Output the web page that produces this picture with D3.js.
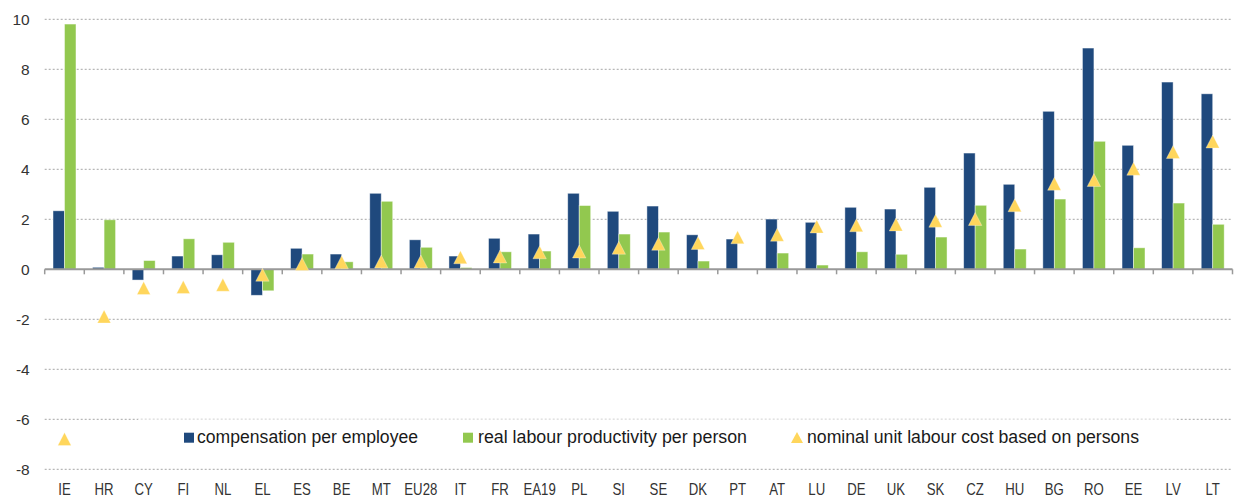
<!DOCTYPE html>
<html>
<head>
<meta charset="utf-8">
<script src="https://d3js.org/d3.v7.min.js"></script>
<style>
  body { margin: 0; background: #fff; }
  svg { display: block; font-family: "Liberation Sans", Arial, sans-serif; }
</style>
</head>
<body>
<svg id="chart" width="1234" height="497"></svg>

<script>
// data
const categories = ["IE","HR","CY","FI","NL","EL","ES","BE","MT","EU28","IT","FR","EA19","PL","SI",
                    "SE","DK","PT","AT","LU","DE","UK","SK","CZ","HU","BG","RO","EE","LV","LT"]
const compensation = [2.34, 0.08, -0.43, 0.53, 0.58, -1.04, 0.84, 0.61, 3.04, 1.18, 0.53, 1.24, 1.41, 3.04, 2.32,
                      2.53, 1.38, 1.21, 2.01, 1.88, 2.48, 2.41, 3.28, 4.65, 3.40, 6.32, 8.85, 4.96, 7.49, 7.02]
const productivity = [9.81, 1.98, 0.35, 1.22, 1.08, -0.86, 0.61, 0.30, 2.72, 0.88, 0.07, 0.70, 0.73, 2.55, 1.41,
                      1.49, 0.33, 0.00, 0.65, 0.17, 0.70, 0.60, 1.29, 2.56, 0.81, 2.81, 5.12, 0.86, 2.65, 1.80]
const unitLabourCost = [-6.80, -1.90, -0.76, -0.72, -0.63, -0.23, 0.20, 0.27, 0.30, 0.30, 0.47, 0.50, 0.67, 0.70, 0.85,
                        1.01, 1.04, 1.27, 1.37, 1.70, 1.75, 1.78, 1.93, 2.00, 2.55, 3.41, 3.56, 4.01, 4.68, 5.10]
const yTicks = [-8, -6, -4, -2, 0, 2, 4, 6, 8, 10]
const legendLabels = ["compensation per employee", "real labour productivity per person",
                      "nominal unit labour cost based on persons"]

const blue = "#1f497d", green = "#92c84f", yellow = "#ffd65c"

const plotLeft = 44.7, plotRight = 1232.5
const svg = d3.select("#chart")

const x = d3.scaleBand().domain(categories).range([plotLeft, plotRight]).paddingInner(0.42).paddingOuter(0.21)
const step = x.step()
const xSub = d3.scaleBand().domain(["comp", "prod"]).range([0, x.bandwidth()])
const y = d3.scaleLinear().domain([-8, 10]).range([469.3, 19.3])

// gridlines
svg.append("g")
  .selectAll("line")
  .data(yTicks.filter(d => d !== 0))
  .join("line")
    .attr("x1", plotLeft).attr("x2", plotRight)
    .attr("y1", d => y(d)).attr("y2", d => y(d))
    .attr("stroke", "#a6a6a6")
    .attr("stroke-width", 1)
    .attr("stroke-dasharray", "2,2")

// y tick labels (plain hyphen for negatives)
const yAxis = svg.append("g")
  .attr("transform", "translate(" + plotLeft + ",0)")
  .call(d3.axisLeft(y).tickValues(yTicks).tickSize(0).tickPadding(15).tickFormat(d => String(d)))
yAxis.select(".domain").remove()
yAxis.selectAll("text")
  .style("font-family", "Liberation Sans, Arial, sans-serif")
  .style("font-size", "15.5px")
  .attr("fill", "#333")

// bars
const rows = categories.map((c, i) => ({ c, comp: compensation[i], prod: productivity[i] }))
const groups = svg.append("g").selectAll("g")
  .data(rows)
  .join("g")
    .attr("transform", d => "translate(" + x(d.c) + ",0)")

groups.selectAll("rect")
  .data(d => [{ k: "comp", v: d.comp }, { k: "prod", v: d.prod }])
  .join("rect")
    .attr("x", d => xSub(d.k))
    .attr("width", xSub.bandwidth())
    .attr("y", d => y(Math.max(0, d.v)))
    .attr("height", d => Math.abs(y(d.v) - y(0)))
    .attr("fill", d => d.k === "comp" ? blue : green)
    .attr("stroke", "rgba(255,255,255,0.55)")
    .attr("stroke-width", 0.8)

// zero axis with category boundary ticks
svg.append("line")
  .attr("x1", plotLeft).attr("x2", plotRight)
  .attr("y1", y(0)).attr("y2", y(0))
  .attr("stroke", "#999")
  .attr("stroke-width", 2)

const boundaries = categories.map(c => x(c) - x.paddingOuter() * step).concat([plotRight])
svg.append("g")
  .selectAll("line")
  .data(boundaries)
  .join("line")
    .attr("x1", d => d).attr("x2", d => d)
    .attr("y1", y(0)).attr("y2", y(0) + 5)
    .attr("stroke", "#999")
    .attr("stroke-width", 1.5)

// triangles
const tri = "M0,-6.8L6.7,6.2L-6.7,6.2Z"
svg.append("g")
  .selectAll("path")
  .data(categories.map((c, i) => ({ c, v: unitLabourCost[i] })))
  .join("path")
    .attr("d", tri)
    .attr("transform", d => "translate(" + (x(d.c) + x.bandwidth() / 2) + "," + y(d.v) + ")")
    .attr("fill", yellow)
    .attr("stroke", "rgba(255,255,255,0.5)")
    .attr("stroke-width", 0.6)

// x labels (narrow rendering as in the source)
const xLabels = svg.append("g")
  .selectAll("text")
  .data(categories)
  .join("text")
    .attr("x", d => x(d) + x.bandwidth() / 2)
    .attr("y", 495)
    .attr("text-anchor", "middle")
    .attr("font-size", 16.5)
    .attr("fill", "#333")
    .text(d => d)
xLabels.each(function () {
  const w = this.getComputedTextLength()
  d3.select(this).attr("textLength", w * 0.8).attr("lengthAdjust", "spacingAndGlyphs")
})

// legend
svg.append("rect")
  .attr("x", 138).attr("y", 419)
  .attr("width", 1039).attr("height", 36)
  .attr("fill", "#fff")
  .attr("fill-opacity", 0.6)

const legendX = [184, 463, 791]
const textX = [197, 478, 807]
const textW = [221, 269, 332]
const legend = svg.append("g")
legendLabels.forEach((label, i) => {
  if (i < 2) {
    legend.append("rect")
      .attr("x", legendX[i]).attr("y", 432.7)
      .attr("width", 10).attr("height", 10)
      .attr("fill", i === 0 ? blue : green)
  } else {
    legend.append("path")
      .attr("d", "M6,0L12,11L0,11Z")
      .attr("transform", "translate(" + legendX[i] + "," + 432 + ")")
      .attr("fill", yellow)
  }
  legend.append("text")
    .attr("x", textX[i])
    .attr("y", 443)
    .attr("font-size", 17.5)
    .attr("fill", "#1a1a1a")
    .attr("textLength", textW[i])
    .attr("lengthAdjust", "spacingAndGlyphs")
    .text(label)
})
</script>
</body>
</html>
